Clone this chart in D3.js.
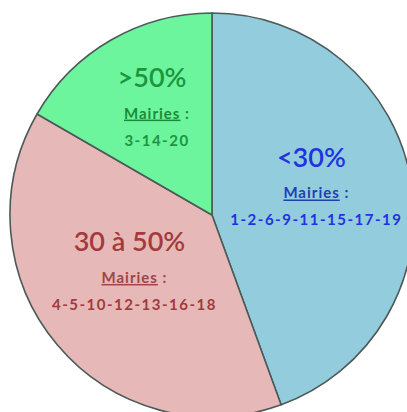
<!DOCTYPE html>
<html><head><meta charset="utf-8">
<script src="https://cdn.jsdelivr.net/npm/d3@7"></script>
<style>body{margin:0;background:#fff}svg{display:block}</style>
</head><body>
<svg id="c" width="407" height="412"></svg>
<script>
const categories = ["<30%", "30 à 50%", ">50%"];
const counts = [8, 7, 3];
const mairies = ["1-2-6-9-11-15-17-19", "4-5-10-12-13-16-18", "3-14-20"];
const subLabel = "Mairies";

const fills = ["#93CDDD", "#E6B9B8", "#6CF59C"];
const textColors = ["#2233DD", "#A33A3C", "#1C9540"];
const subColors = ["#2040B0", "#A04548", "#1C8A3C"];
const labelR = [108, 96, 122];
const nudge = [[-2,-9],[-4,-5],[6,-2]];

const svg = d3.select("#c");
const cx = 212, cy = 215, R = 202;
const g = svg.append("g").attr("transform", `translate(${cx},${cy})`);
const data = categories.map((c,i)=>({cat:c, n:counts[i], m:mairies[i], i}));
const pie = d3.pie().value(d=>d.n).sort(null);
const arcs = pie(data);
const arc = d3.arc().innerRadius(0).outerRadius(R);

g.selectAll("path").data(arcs).join("path")
  .attr("d", arc)
  .attr("fill", d=>fills[d.data.i])
  .attr("stroke", "#4d5a5a")
  .attr("stroke-width", 1.6)
  .attr("stroke-linejoin", "round");

const font = "Lato, 'Open Sans', sans-serif";
arcs.forEach(a => {
  const i = a.data.i;
  const la = d3.arc().innerRadius(labelR[i]).outerRadius(labelR[i]);
  const [x0,y0] = la.centroid(a);
  const x = x0 + nudge[i][0], y = y0 + nudge[i][1];
  const lg = g.append("g").attr("transform", `translate(${x},${y})`);
  lg.append("text").attr("x",-5).attr("y",-30).attr("dy","0.35em")
    .attr("text-anchor","middle").attr("font-family",font).attr("font-size",27)
    .attr("font-weight",600).attr("fill",textColors[i]).text(a.data.cat);
  const t = lg.append("text").attr("x",0).attr("y",6).attr("dy","0.35em")
    .attr("text-anchor","middle").attr("font-family",font).attr("font-size",15)
    .attr("letter-spacing",1).attr("font-weight","bold").attr("fill",subColors[i]);
  t.append("tspan").attr("text-decoration","underline").text(subLabel);
  t.append("tspan").text(" :");
  lg.append("text").attr("x",0).attr("y",33).attr("dy","0.35em")
    .attr("text-anchor","middle").attr("font-family",font).attr("font-size",15)
    .attr("letter-spacing",1.5).attr("font-weight","bold").attr("fill",textColors[i]).text(a.data.m);
});
</script>
</body></html>
